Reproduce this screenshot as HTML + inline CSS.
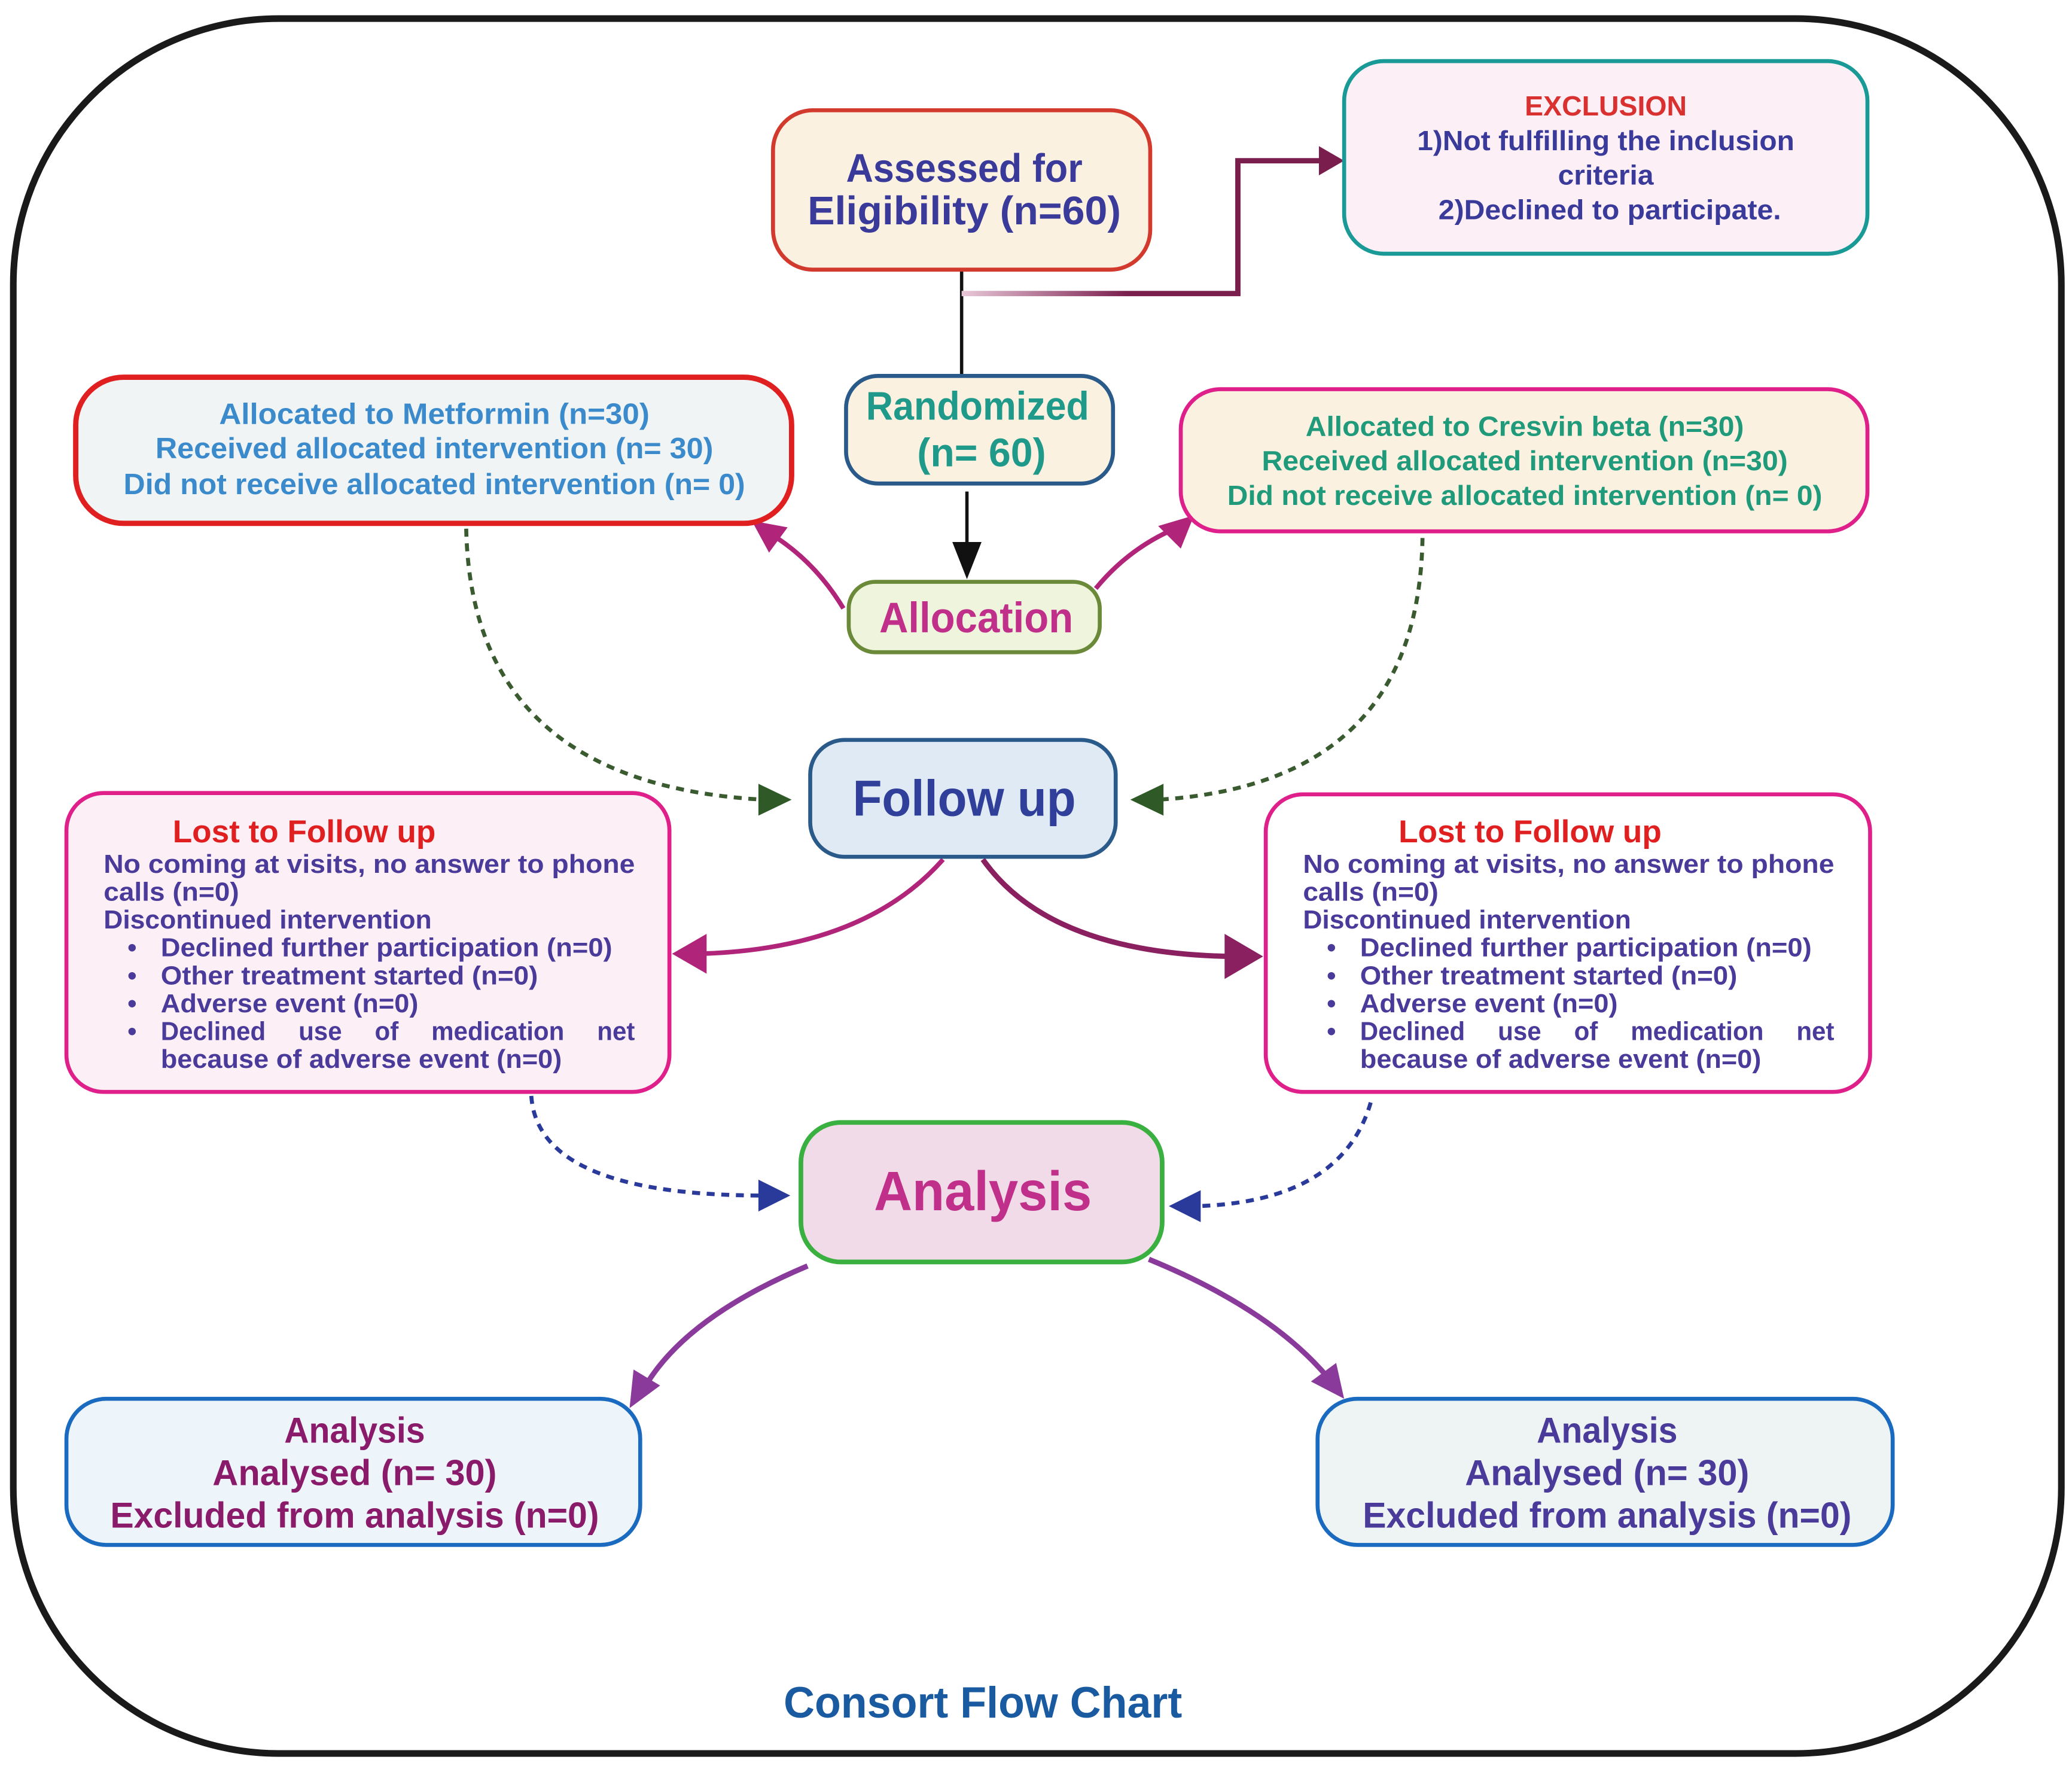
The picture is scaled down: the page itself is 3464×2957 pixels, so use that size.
<!DOCTYPE html>
<html><head><meta charset="utf-8"><style>
html,body{margin:0;padding:0;background:#fff}
svg{display:block}
text{font-family:"Liberation Sans",sans-serif;font-weight:bold}
</style></head><body>
<svg width="3464" height="2957" viewBox="0 0 1560 1331.7" xmlns="http://www.w3.org/2000/svg">
<defs>
<linearGradient id="g1" x1="724" y1="0" x2="932" y2="0" gradientUnits="userSpaceOnUse">
<stop offset="0" stop-color="#e8c8d8"/><stop offset="0.6" stop-color="#7a1e4e"/><stop offset="1" stop-color="#7a1e4e"/></linearGradient>
</defs>
<rect x="10" y="14" width="1542" height="1306" rx="200" ry="200" fill="#fff" stroke="#1a1a1a" stroke-width="5"/>

<!-- connectors -->
<line x1="724" y1="203" x2="724" y2="283" stroke="#111" stroke-width="2.5"/>
<path d="M724 221 H932 V121 H995" fill="none" stroke="url(#g1)" stroke-width="4"/>
<polygon points="993,110 1012,121 993,132" fill="#7a1e4e"/>
<line x1="728" y1="370" x2="728" y2="415" stroke="#111" stroke-width="2.5"/>
<polygon points="717,408 728,436 739,408" fill="#111"/>

<path d="M635 458 Q615 425 585 405" fill="none" stroke="#b0257a" stroke-width="3.5"/>
<polygon points="566,392 593,397 579,416" fill="#b0257a"/>
<path d="M825 443 Q848 415 880 400" fill="none" stroke="#b0257a" stroke-width="3.5"/>
<polygon points="899,388 889,413 872,396" fill="#b0257a"/>

<path d="M351 398 Q355 590 575 602" fill="none" stroke="#3a5a30" stroke-width="3" stroke-dasharray="6,5"/>
<polygon points="571,590 596,602 571,614" fill="#2f5a28"/>
<path d="M1071 405 Q1068 590 872 602" fill="none" stroke="#3a5a30" stroke-width="3" stroke-dasharray="6,5"/>
<polygon points="876,590 851,602 876,614" fill="#2f5a28"/>

<path d="M710 647 Q650 715 525 718" fill="none" stroke="#b0257a" stroke-width="3.5"/>
<polygon points="532,703 506,718 532,733" fill="#b0257a"/>
<path d="M740 647 Q790 718 928 720" fill="none" stroke="#8a2060" stroke-width="4"/>
<polygon points="922,703 951,720 922,737" fill="#8a2060"/>

<path d="M400 825 Q405 900 575 900" fill="none" stroke="#2a3a9a" stroke-width="3" stroke-dasharray="6,5"/>
<polygon points="571,888 595,900 571,912" fill="#2a3a9a"/>
<path d="M1032 830 Q1010 905 900 908" fill="none" stroke="#2a3a9a" stroke-width="3" stroke-dasharray="6,5"/>
<polygon points="904,896 880,908 904,920" fill="#2a3a9a"/>

<path d="M608 953 Q520 990 488 1040" fill="none" stroke="#8a3a9a" stroke-width="4"/>
<polygon points="474,1060 477,1031 497,1043" fill="#8a3a9a"/>
<path d="M865 948 Q955 985 998 1035" fill="none" stroke="#8a3a9a" stroke-width="4"/>
<polygon points="1012,1053 987,1040 1006,1026" fill="#8a3a9a"/>

<!-- boxes -->
<rect x="582" y="83" width="284" height="120" rx="30" fill="#fbf1e0" stroke="#d23a2e" stroke-width="3"/>
<text x="726" y="137" font-size="30" fill="#3a3a9a" text-anchor="middle" textLength="178" lengthAdjust="spacingAndGlyphs">Assessed for</text>
<text x="726" y="169" font-size="30" fill="#3a3a9a" text-anchor="middle" textLength="236" lengthAdjust="spacingAndGlyphs">Eligibility (n=60)</text>

<rect x="1012" y="46" width="394" height="145" rx="30" fill="#fcf0f6" stroke="#1a9a96" stroke-width="3"/>
<text x="1209" y="87" font-size="21" fill="#d93030" text-anchor="middle" textLength="122" lengthAdjust="spacingAndGlyphs">EXCLUSION</text>
<text x="1209" y="113" font-size="21" fill="#3a3a9a" text-anchor="middle" textLength="284" lengthAdjust="spacingAndGlyphs">1)Not fulfilling the inclusion</text>
<text x="1209" y="139" font-size="21" fill="#3a3a9a" text-anchor="middle" textLength="72" lengthAdjust="spacingAndGlyphs">criteria</text>
<text x="1212" y="165" font-size="21" fill="#3a3a9a" text-anchor="middle" textLength="258" lengthAdjust="spacingAndGlyphs">2)Declined to participate.</text>

<rect x="57" y="284" width="539" height="110" rx="36" fill="#f0f4f4" stroke="#e02020" stroke-width="4"/>
<text x="327" y="319" font-size="22" fill="#3a8acc" text-anchor="middle" textLength="324" lengthAdjust="spacingAndGlyphs">Allocated to Metformin (n=30)</text>
<text x="327" y="345" font-size="22" fill="#3a8acc" text-anchor="middle" textLength="420" lengthAdjust="spacingAndGlyphs">Received allocated intervention (n= 30)</text>
<text x="327" y="372" font-size="22" fill="#3a8acc" text-anchor="middle" textLength="468" lengthAdjust="spacingAndGlyphs">Did not receive allocated intervention (n= 0)</text>

<rect x="637" y="283" width="201" height="81" rx="24" fill="#fbf1e0" stroke="#2a5a8a" stroke-width="3"/>
<text x="736" y="316" font-size="30" fill="#1f9a8a" text-anchor="middle" textLength="168" lengthAdjust="spacingAndGlyphs">Randomized</text>
<text x="739" y="351" font-size="30" fill="#1f9a8a" text-anchor="middle" textLength="97" lengthAdjust="spacingAndGlyphs">(n= 60)</text>

<rect x="889" y="293" width="517" height="107" rx="30" fill="#fbf1e0" stroke="#e0208a" stroke-width="3"/>
<text x="1148" y="328" font-size="21" fill="#1f9a7a" text-anchor="middle" textLength="330" lengthAdjust="spacingAndGlyphs">Allocated to Cresvin beta (n=30)</text>
<text x="1148" y="354" font-size="21" fill="#1f9a7a" text-anchor="middle" textLength="396" lengthAdjust="spacingAndGlyphs">Received allocated intervention (n=30)</text>
<text x="1148" y="380" font-size="21" fill="#1f9a7a" text-anchor="middle" textLength="448" lengthAdjust="spacingAndGlyphs">Did not receive allocated intervention (n= 0)</text>

<rect x="639" y="438" width="189" height="53" rx="20" fill="#eef5dc" stroke="#6a8a3a" stroke-width="3"/>
<text x="735" y="476" font-size="32" fill="#c0308a" text-anchor="middle" textLength="146" lengthAdjust="spacingAndGlyphs">Allocation</text>

<rect x="610" y="557" width="230" height="88" rx="26" fill="#dfeaf5" stroke="#2a5a8a" stroke-width="3"/>
<text x="726" y="614" font-size="38" fill="#2f3f9a" text-anchor="middle" textLength="168" lengthAdjust="spacingAndGlyphs">Follow up</text>

<!-- lost boxes -->
<g>
<rect x="50" y="597" width="454" height="225" rx="28" fill="#fcf0f6" stroke="#e0208a" stroke-width="3"/>
<text x="130" y="634" font-size="24" fill="#e02020" textLength="198" lengthAdjust="spacingAndGlyphs">Lost to Follow up</text>
<g font-size="19.5" fill="#4a3a9a">
<text x="78" y="657" textLength="400" lengthAdjust="spacingAndGlyphs">No coming at visits, no answer to phone</text>
<text x="78" y="678" textLength="102" lengthAdjust="spacingAndGlyphs">calls (n=0)</text>
<text x="78" y="699" textLength="247" lengthAdjust="spacingAndGlyphs">Discontinued intervention</text>
<text x="96" y="720">•</text><text x="121" y="720" textLength="340" lengthAdjust="spacingAndGlyphs">Declined further participation (n=0)</text>
<text x="96" y="741">•</text><text x="121" y="741" textLength="284" lengthAdjust="spacingAndGlyphs">Other treatment started (n=0)</text>
<text x="96" y="762">•</text><text x="121" y="762" textLength="194" lengthAdjust="spacingAndGlyphs">Adverse event (n=0)</text>
<text x="96" y="783">•</text><text x="121" y="783" textLength="357" lengthAdjust="spacingAndGlyphs" word-spacing="20">Declined use of medication net</text>
<text x="121" y="804" textLength="302" lengthAdjust="spacingAndGlyphs">because of adverse event (n=0)</text>
</g>
</g>
<g>
<rect x="953" y="598" width="455" height="224" rx="28" fill="#fff" stroke="#e0208a" stroke-width="3"/>
<text x="1053" y="634" font-size="24" fill="#e02020" textLength="198" lengthAdjust="spacingAndGlyphs">Lost to Follow up</text>
<g font-size="19.5" fill="#4a3a9a">
<text x="981" y="657" textLength="400" lengthAdjust="spacingAndGlyphs">No coming at visits, no answer to phone</text>
<text x="981" y="678" textLength="102" lengthAdjust="spacingAndGlyphs">calls (n=0)</text>
<text x="981" y="699" textLength="247" lengthAdjust="spacingAndGlyphs">Discontinued intervention</text>
<text x="999" y="720">•</text><text x="1024" y="720" textLength="340" lengthAdjust="spacingAndGlyphs">Declined further participation (n=0)</text>
<text x="999" y="741">•</text><text x="1024" y="741" textLength="284" lengthAdjust="spacingAndGlyphs">Other treatment started (n=0)</text>
<text x="999" y="762">•</text><text x="1024" y="762" textLength="194" lengthAdjust="spacingAndGlyphs">Adverse event (n=0)</text>
<text x="999" y="783">•</text><text x="1024" y="783" textLength="357" lengthAdjust="spacingAndGlyphs" word-spacing="20">Declined use of medication net</text>
<text x="1024" y="804" textLength="302" lengthAdjust="spacingAndGlyphs">because of adverse event (n=0)</text>
</g>
</g>

<rect x="603" y="845" width="272" height="105" rx="30" fill="#f2dbe8" stroke="#3ab040" stroke-width="3.5"/>
<text x="740" y="911" font-size="42" fill="#c0308a" text-anchor="middle" textLength="164" lengthAdjust="spacingAndGlyphs">Analysis</text>

<rect x="50" y="1053" width="432" height="110" rx="30" fill="#eef5fa" stroke="#1a6ac0" stroke-width="3"/>
<text x="267" y="1086" font-size="27" fill="#8a1a6a" text-anchor="middle" textLength="106" lengthAdjust="spacingAndGlyphs">Analysis</text>
<text x="267" y="1118" font-size="27" fill="#8a1a6a" text-anchor="middle" textLength="214" lengthAdjust="spacingAndGlyphs">Analysed (n= 30)</text>
<text x="267" y="1150" font-size="27" fill="#8a1a6a" text-anchor="middle" textLength="368" lengthAdjust="spacingAndGlyphs">Excluded from analysis (n=0)</text>

<rect x="992" y="1053" width="433" height="110" rx="30" fill="#eef3f3" stroke="#1a6ac0" stroke-width="3"/>
<text x="1210" y="1086" font-size="27" fill="#4a3a9a" text-anchor="middle" textLength="106" lengthAdjust="spacingAndGlyphs">Analysis</text>
<text x="1210" y="1118" font-size="27" fill="#4a3a9a" text-anchor="middle" textLength="214" lengthAdjust="spacingAndGlyphs">Analysed (n= 30)</text>
<text x="1210" y="1150" font-size="27" fill="#4a3a9a" text-anchor="middle" textLength="368" lengthAdjust="spacingAndGlyphs">Excluded from analysis (n=0)</text>

<text x="740" y="1293" font-size="33" fill="#1a5aa0" text-anchor="middle" textLength="300" lengthAdjust="spacingAndGlyphs">Consort Flow Chart</text>
</svg>
</body></html>
